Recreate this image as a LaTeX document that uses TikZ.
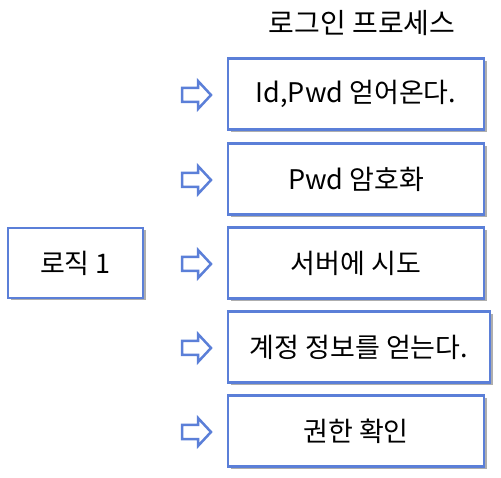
\documentclass[tikz,border=0pt]{standalone}
\usepackage{fontspec}
\setmainfont{Noto Sans CJK KR}
\usetikzlibrary{shadows}
\definecolor{boxblue}{HTML}{5B7FD8}
\tikzset{
  px/.style={x=1pt,y=-1pt},
  stepbox/.style={draw=boxblue, line width=2.5pt, fill=white, minimum width=256pt, minimum height=71pt,
     drop shadow={shadow xshift=2.5pt, shadow yshift=-2.5pt, opacity=0.45, fill=black!70}, font=\fontsize{27}{30}\selectfont, inner sep=0pt},
  leftbox/.style={stepbox, minimum width=135pt, minimum height=70pt},
  blockarrow/.style={draw=boxblue, line width=2.5pt, fill=white, line join=miter},
  titletext/.style={font=\fontsize{28}{30}\selectfont},
  pics/fatarrow/.style={code={
    \draw[blockarrow] (-15,-7) -- (1,-7) -- (1,-14) -- (14,0) -- (1,14) -- (1,7) -- (-15,7) -- cycle;
  }}
}
\begin{document}
\begin{tikzpicture}[px]
\useasboundingbox (0,0) rectangle (501,478);
\node[titletext] (title) at (362,23) {로그인 프로세스};
\node[leftbox] (logic) at (75.5,263) {로직 1};
\node[stepbox] (s1) at (356,94) {Id,Pwd 얻어온다.};
\node[stepbox] (s2) at (356,179) {Pwd 암호화};
\node[stepbox] (s3) at (356,263) {서버에 시도};
\node[stepbox, minimum width=262pt] (s4) at (359,347) {계정 정보를 얻는다.};
\node[stepbox] (s5) at (356,431) {권한 확인};
\pic at (197,95) {fatarrow};
\pic at (197,180) {fatarrow};
\pic at (197,264) {fatarrow};
\pic at (197,348) {fatarrow};
\pic at (197,432) {fatarrow};
\end{tikzpicture}
\end{document}
